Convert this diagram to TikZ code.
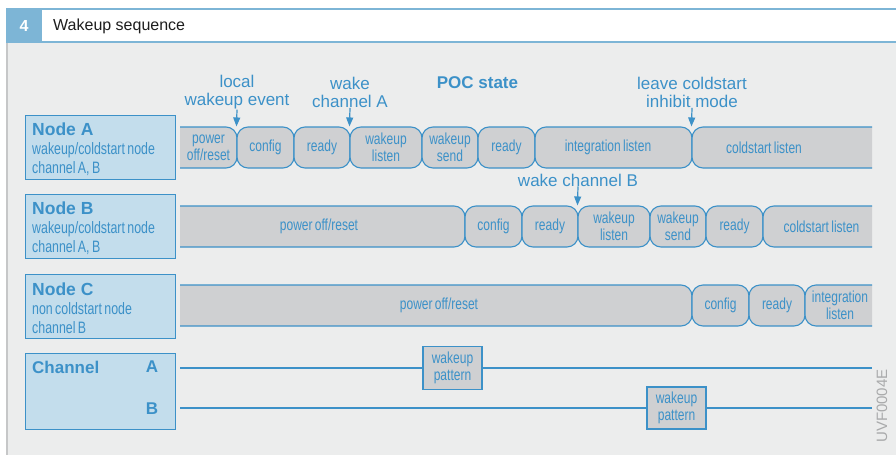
\documentclass[tikz,border=0pt]{standalone}
\usepackage{fontspec}
\setmainfont{Liberation Sans}
\newfontfamily\condf[FakeStretch=0.75,WordSpace=0.7]{Liberation Sans}
\usetikzlibrary{arrows.meta}
\definecolor{bgc}{HTML}{ECEDED}
\definecolor{bluec}{HTML}{3C91C8}
\definecolor{labfill}{HTML}{C3DDEC}
\definecolor{stfill}{HTML}{CFD0D2}
\definecolor{hdblue}{HTML}{7DB5D6}
\definecolor{bordc}{HTML}{C6C7C8}
\definecolor{uvfc}{HTML}{A9AAAB}
\definecolor{hdtext}{HTML}{1E1E1E}
\begin{document}
\begin{tikzpicture}[x=1pt,y=-1pt,
  stbox/.style={draw=bluec, fill=stfill, line width=1.1pt, rounded corners=11pt,
    minimum height=41pt, inner sep=0pt, text=bluec,
    font=\condf\fontsize{16}{17}\selectfont, align=center},
  sttext/.style={text=bluec, font=\condf\fontsize{16}{17}\selectfont, align=center, inner sep=0pt},
  labbox/.style={draw=bluec, fill=labfill, line width=1.2pt, minimum width=150pt,
    anchor=north west, inner sep=0pt},
  labtext/.style={anchor=west, inner sep=0pt, align=left, text=bluec,
    font=\condf\fontsize{16.5}{19}\selectfont},
  labhead/.style={text=bluec, font=\bfseries\fontsize{17}{19}\selectfont, inner sep=0pt},
  ann/.style={text=bluec, font=\fontsize{17}{18}\selectfont, align=center, inner sep=0pt},
  arr/.style={draw=bluec, line width=1.2pt, -{Triangle[length=9pt,width=7pt]}},
  chline/.style={draw=bluec, line width=1.2pt},
  wpbox/.style={draw=bluec, fill=stfill, line width=1.2pt, minimum width=59pt,
    inner sep=0pt, text=bluec, font=\condf\fontsize{16}{17}\selectfont, align=center}]
\useasboundingbox (0,0) rectangle (896,455);
% background and header
\fill[white] (0,0) rectangle (896,455);
\fill[bgc] (8,43) rectangle (896,455);
\fill[bordc] (6,43) rectangle (8,455);
\fill[hdblue] (6,8) rectangle (896,10);
\fill[hdblue] (6,41) rectangle (896,43);
\node[fill=hdblue, minimum width=36pt, minimum height=35pt, inner sep=0pt, text=white,
  font=\bfseries\fontsize{16}{18}\selectfont] (hnum) at (24,25.5) {4};
\node[anchor=west, inner sep=0pt, text=hdtext, font=\fontsize{16}{18}\selectfont]
  (htitle) at (53,26) {Wakeup sequence};

% label boxes
\node[labbox, minimum height=64pt] (la) at (25,115) {};
\node[labtext] (lat) at (32,149)
  {{\rmfamily\bfseries\fontsize{17.5}{19}\selectfont Node A}\\ wakeup/coldstart node\\ channel A, B};
\node[labbox, minimum height=64pt] (lb) at (25,194) {};
\node[labtext] (lbt) at (32,228)
  {{\rmfamily\bfseries\fontsize{17.5}{19}\selectfont Node B}\\ wakeup/coldstart node\\ channel A, B};
\node[labbox, minimum height=64pt] (lc) at (25,274) {};
\node[labtext] (lct) at (32,308)
  {{\rmfamily\bfseries\fontsize{17.5}{19}\selectfont Node C}\\ non coldstart node\\ channel B};
\node[labbox, minimum height=76pt] (lch) at (25,353) {};
\node[labhead, anchor=west] (chT) at (32,367) {Channel};
\node[labhead] (chA) at (152,367) {A};
\node[labhead] (chB) at (152,409) {B};

% state rows
\begin{scope}
\clip (180,100) rectangle (872,340);
% row A
\node[stbox, minimum width=77pt] (a1) at (198.5,147.5) {};
\node[sttext] (a1t) at (208.5,147.5) {power\\off/reset};
\node[stbox, minimum width=57pt] (a2) at (265.5,147.5) {config};
\node[stbox, minimum width=56pt] (a3) at (322,147.5) {ready};
\node[stbox, minimum width=72pt] (a4) at (386,147.5) {wakeup\\listen};
\node[stbox, minimum width=56pt] (a5) at (450,147.5) {wakeup\\send};
\node[stbox, minimum width=57pt] (a6) at (506.5,147.5) {ready};
\node[stbox, minimum width=157pt] (a7) at (613.5,147.5) {};
\node[sttext] (a7t) at (608,147.5) {integration listen};
\node[stbox, minimum width=200pt] (a8) at (792,147.5) {};
\node[sttext] (a8t) at (764,147.5) {coldstart listen};
% row B
\node[stbox, minimum width=305pt] (b1) at (312.5,226.5) {};
\node[sttext] (b1t) at (319,226.5) {power off/reset};
\node[stbox, minimum width=57pt] (b2) at (493.5,226.5) {config};
\node[stbox, minimum width=56pt] (b3) at (550,226.5) {ready};
\node[stbox, minimum width=72pt] (b4) at (614,226.5) {wakeup\\listen};
\node[stbox, minimum width=56pt] (b5) at (678,226.5) {wakeup\\send};
\node[stbox, minimum width=57pt] (b6) at (734.5,226.5) {ready};
\node[stbox, minimum width=129pt] (b7) at (827.5,226.5) {};
\node[sttext] (b7t) at (821.5,226.5) {coldstart listen};
% row C
\node[stbox, minimum width=532pt] (c1) at (426,305.5) {};
\node[sttext] (c1t) at (439,305.5) {power off/reset};
\node[stbox, minimum width=57pt] (c2) at (720.5,305.5) {config};
\node[stbox, minimum width=56pt] (c3) at (777,305.5) {ready};
\node[stbox, minimum width=87pt] (c4) at (848.5,305.5) {};
\node[sttext] (c4t) at (840,305.5) {integration\\listen};
\end{scope}

% annotations
\node[ann] (lwe) at (237,92.5) {local\\wakeup event};
\node[ann] (wca) at (350,92.5) {wake\\channel A};
\node[ann, font=\bfseries\fontsize{17}{18}\selectfont, anchor=base] (poc) at (477.5,88) {POC state};
\node[ann] (lcm) at (692,92.5) {leave coldstart\\inhibit mode};
\node[ann, anchor=base] (wcb) at (578,186) {wake channel B};
\draw[arr] (lwe.south) -- (a2.north west);
\draw[arr] (wca.south) -- (a4.north west);
\draw[arr] (lcm.south) -- (a8.north west);
\draw[arr] (wcb.south) -- (b4.north west);

% channels
\coordinate (cA0) at (180,368);
\coordinate (cA1) at (872,368);
\coordinate (cB0) at (180,408);
\coordinate (cB1) at (872,408);
\node[wpbox, minimum height=43pt] (wpA) at (452.5,368) {wakeup\\pattern};
\node[wpbox, minimum height=42pt] (wpB) at (676.5,408) {wakeup\\pattern};
\draw[chline] (cA0) -- (wpA);
\draw[chline] (wpA) -- (cA1);
\draw[chline] (cB0) -- (wpB);
\draw[chline] (wpB) -- (cB1);

% figure code
\node[rotate=90, text=uvfc, inner sep=0pt, font=\fontsize{15}{17}\selectfont] (uvf) at (882,406) {UVF0004E};
\end{tikzpicture}
\end{document}
